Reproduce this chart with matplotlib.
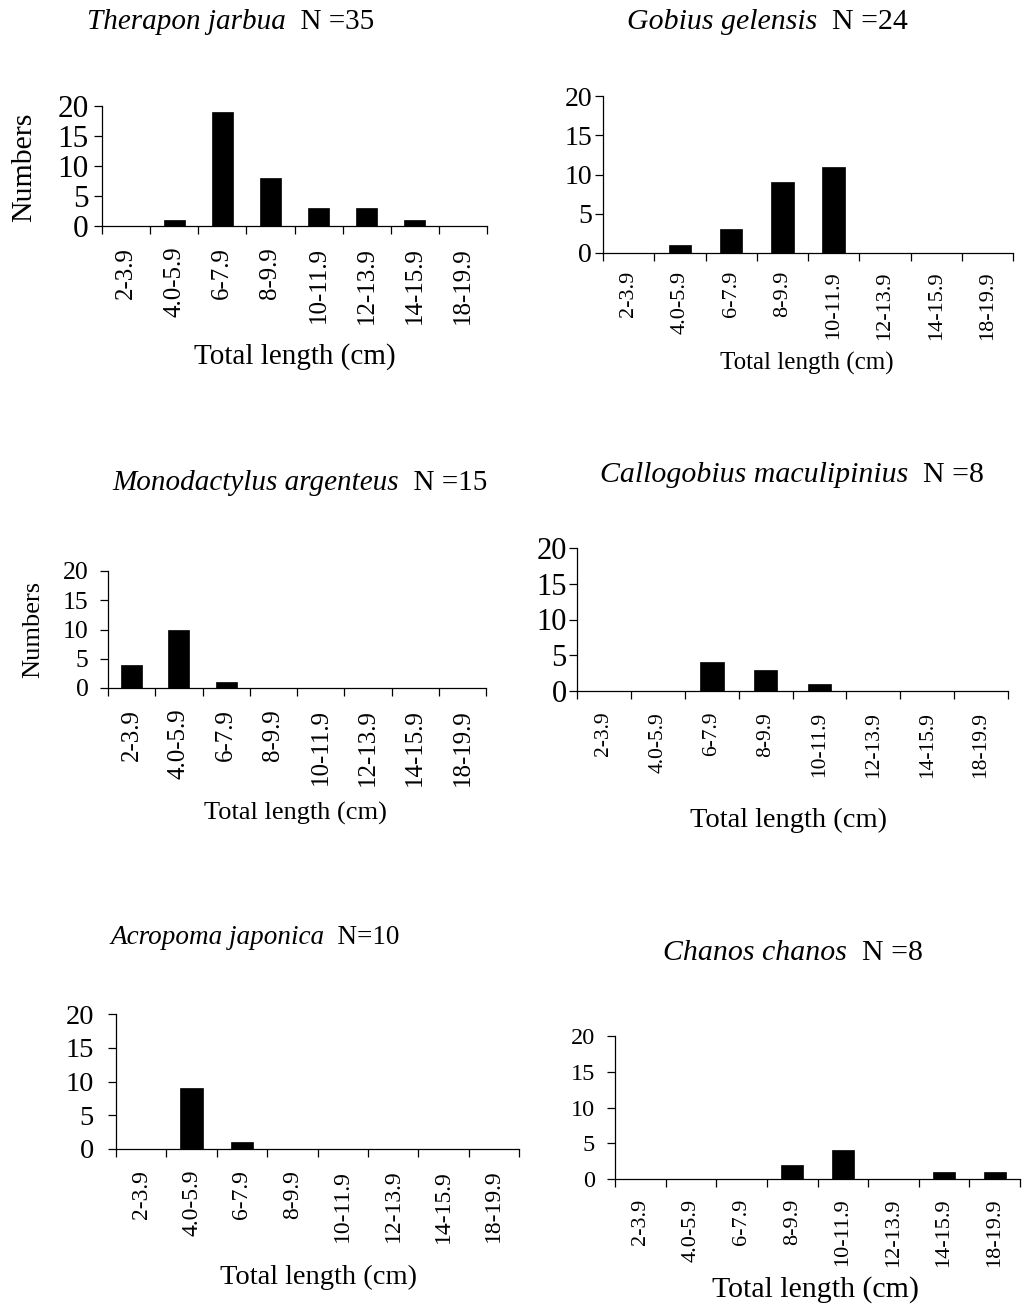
import matplotlib
matplotlib.use("Agg")
import matplotlib.pyplot as plt
import numpy as np

plt.rcParams['font.family'] = ['Liberation Serif', 'DejaVu Serif']

categories = ["2-3.9", "4.0-5.9", "6-7.9", "8-9.9", "10-11.9", "12-13.9", "14-15.9", "18-19.9"]

species = ["Therapon jarbua", "Gobius gelensis", "Monodactylus argenteus",
           "Callogobius maculipinius", "Acropoma japonica", "Chanos chanos"]
n_labels = ["  N =35", "  N =24", "  N =15", "  N =8", "  N=10", "  N =8"]

therapon = [0, 1, 19, 8, 3, 3, 1, 0]
gobius = [0, 1, 3, 9, 11, 0, 0, 0]
monodactylus = [4, 10, 1, 0, 0, 0, 0, 0]
callogobius = [0, 0, 4, 3, 1, 0, 0, 0]
acropoma = [0, 9, 1, 0, 0, 0, 0, 0]
chanos = [0, 0, 0, 2, 4, 0, 1, 1]

yticks = [0, 5, 10, 15, 20]

W, H = 1032, 1316
fig = plt.figure(figsize=(W / 100, H / 100), dpi=100)

# layout per panel (pixels): left, right, y20, y0
layout = [
    dict(box=(102, 487, 106, 226), ytfs=22.5, ypad=3.5, xtfs=18, xlfs=21, xl=(295, 357),
         ylab=(24, 167, 21.5), title=(87, 22), tfs=21, pad=9),
    dict(box=(603, 1013, 96, 253), ytfs=20, ypad=2, xtfs=16, xlfs=18, xl=(807, 363),
         ylab=None, title=(627, 22), tfs=21.5, pad=7),
    dict(box=(108, 486, 571, 688), ytfs=18.5, ypad=8, xtfs=18, xlfs=19, xl=(295, 813),
         ylab=(33, 629, 19), title=(112, 483), tfs=21, pad=9),
    dict(box=(577, 1008, 548, 691), ytfs=22, ypad=1.5, xtfs=15.5, xlfs=20.5, xl=(788, 820),
         ylab=None, title=(600, 475), tfs=21.5, pad=9),
    dict(box=(116, 519, 1014, 1149), ytfs=20.5, ypad=10, xtfs=17, xlfs=20.5, xl=(319, 1277),
         ylab=None, title=(110, 937), tfs=19.5, pad=9),
    dict(box=(615, 1020, 1036, 1179), ytfs=17.5, ypad=8.5, xtfs=16, xlfs=21.5, xl=(816, 1290),
         ylab=None, title=(663, 953), tfs=21.5, pad=8),
]
data = [therapon, gobius, monodactylus, callogobius, acropoma, chanos]

x = np.arange(len(categories)) + 0.5
for i, (lay, vals) in enumerate(zip(layout, data)):
    l, r, y20, y0 = lay['box']
    ax = fig.add_axes([l / W, 1 - y0 / H, (r - l) / W, (y0 - y20) / H])
    ax.bar(x, vals, width=0.44, color='black', edgecolor='black', linewidth=0.5)
    ax.set_xlim(0, len(categories))
    ax.set_ylim(0, 20)
    ax.set_yticks(yticks)
    ax.set_yticklabels([str(v) for v in yticks], fontsize=lay['ytfs'])
    ax.set_xticks(np.arange(len(categories) + 1))
    ax.set_xticklabels([])
    ax.set_xticks(x, minor=True)
    ax.set_xticklabels(categories, minor=True, rotation=90, fontsize=lay['xtfs'])
    ax.tick_params(axis='x', which='minor', length=0, pad=lay['pad'] + 6)
    ax.tick_params(axis='x', which='major', length=6, width=0.9, direction='out')
    ax.tick_params(axis='y', length=6, width=0.9, direction='out', pad=lay['ypad'])
    for s in ['top', 'right']:
        ax.spines[s].set_visible(False)
    for s in ['left', 'bottom']:
        ax.spines[s].set_linewidth(0.9)
    ax.patch.set_visible(False)

    xlx, xly = lay['xl']
    fig.text(xlx / W, 1 - xly / H, "Total length (cm)", fontsize=lay['xlfs'],
             ha='center', va='center')
    if lay['ylab'] is not None:
        yx, yy, yfs = lay['ylab']
        fig.text(yx / W, 1 - yy / H, "Numbers", fontsize=yfs, rotation=90,
                 ha='center', va='center')
    tx, ty = lay['title']
    t1 = fig.text(tx / W, 1 - ty / H, species[i], fontsize=lay['tfs'], style='italic',
                  ha='left', va='center')
    ax.annotate(n_labels[i], xy=(1, 0), xycoords=t1, fontsize=lay['tfs'],
                ha='left', va='bottom', annotation_clip=False)

fig.savefig("out.png", dpi=100, facecolor='white')
